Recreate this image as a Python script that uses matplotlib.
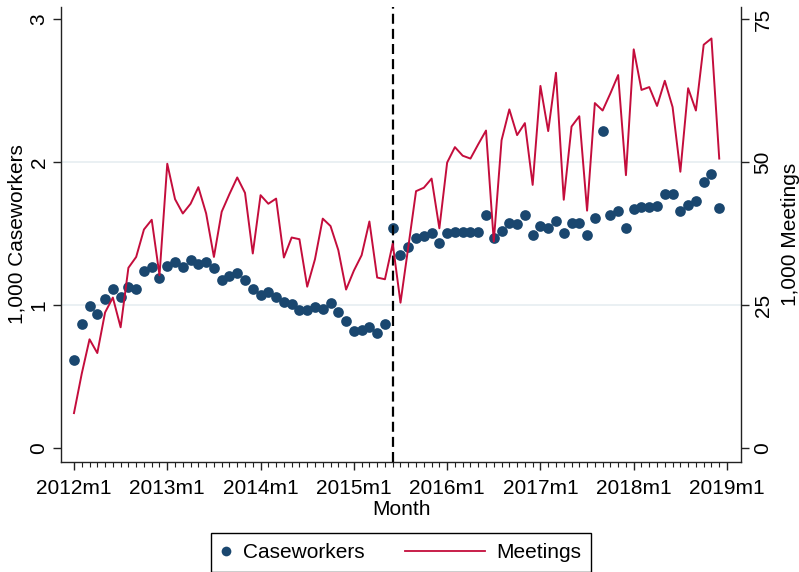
import numpy as np
import matplotlib
matplotlib.use("Agg")
import matplotlib.pyplot as plt
from matplotlib.lines import Line2D
from matplotlib.legend_handler import HandlerLine2D

plt.rcParams["font.family"] = ["Liberation Sans", "DejaVu Sans"]

# Monthly series, 2012m1 .. 2018m12 (thousands)
caseworkers = [
    0.615, 0.867, 0.993, 0.937, 1.042, 1.112, 1.054, 1.128, 1.112, 1.238, 1.268, 1.191,
    1.273, 1.303, 1.268, 1.315, 1.290, 1.303, 1.257, 1.175, 1.203, 1.222, 1.175, 1.110,
    1.070, 1.093, 1.054, 1.023, 1.005, 0.965, 0.965, 0.988, 0.970, 1.012, 0.949, 0.886,
    0.820, 0.825, 0.844, 0.807, 0.867, 1.536, 1.350, 1.403, 1.466, 1.483, 1.501, 1.436,
    1.501, 1.508, 1.513, 1.510, 1.513, 1.629, 1.471, 1.520, 1.576, 1.566, 1.629, 1.490,
    1.552, 1.536, 1.590, 1.501, 1.576, 1.571, 1.487, 1.606, 2.220, 1.630, 1.660, 1.535,
    1.671, 1.687, 1.687, 1.694, 1.776, 1.776, 1.655, 1.699, 1.727, 1.862, 1.914, 1.678,
]
meetings = [
    6.1, 13.0, 19.0, 16.6, 23.7, 26.3, 21.1, 31.5, 33.4, 38.2, 39.9, 30.2,
    49.7, 43.5, 41.0, 42.7, 45.6, 41.0, 33.4, 41.3, 44.4, 47.3, 44.6, 34.0,
    44.2, 42.7, 43.6, 33.3, 36.8, 36.5, 28.2, 33.0, 40.1, 38.8, 34.6, 27.7,
    31.0, 33.7, 39.6, 29.8, 29.5, 35.7, 25.4, 35.1, 44.9, 45.5, 47.1, 38.4,
    49.9, 52.6, 51.1, 50.6, 53.1, 55.5, 36.1, 53.8, 59.2, 54.7, 56.8, 46.0,
    63.3, 55.4, 65.6, 43.4, 56.2, 58.0, 41.5, 60.3, 59.0, 62.0, 65.2, 47.7,
    69.7, 62.6, 63.1, 59.8, 64.2, 59.6, 48.3, 62.9, 59.0, 70.5, 71.6, 50.6,
]
months = np.arange(len(caseworkers))          # 0 = 2012m1
year_tick_pos = list(range(0, 85, 12))
year_tick_labels = ["2012m1", "2013m1", "2014m1", "2015m1",
                    "2016m1", "2017m1", "2018m1", "2019m1"]
left_ticks = [0, 1, 2, 3]
right_ticks = [0, 25, 50, 75]
grid_levels = [1, 2]
break_month = 41                               # 2015m6

NAVY = "#1a476f"
RED = "#c40d3c"
FS = 15


class WideLineHandler(HandlerLine2D):
    """Legend line that extends further left than the handle box."""
    def get_xdata(self, legend, xdescent, ydescent, width, height, fontsize):
        x = np.array([-xdescent - 3.34 * fontsize, -xdescent + width])
        return x, x


fig = plt.figure(figsize=(7.99, 5.72), dpi=100)
ax = fig.add_axes([61 / 799, 110 / 572, 680 / 799, 455 / 572])
ax2 = ax.twinx()

ax.set_xlim(-1.67, 85.8)
ax.set_ylim(-0.098, 3.084)
ax2.set_ylim(-0.098 * 25, 3.084 * 25)

for g in grid_levels:
    ax.axhline(g, color="#e6eef1", lw=1.2, zorder=0)

ax.plot(months, caseworkers, linestyle="none", marker="o", ms=7.7,
        color=NAVY, mew=0, zorder=2)
ax.axvline(break_month, color="black", lw=1.6, dashes=(4.5, 2.3), zorder=3)
ax2.plot(months, meetings, color=RED, lw=1.4, zorder=3)

for s in ["top", "right"]:
    ax.spines[s].set_visible(False)
for s in ["top", "left", "bottom"]:
    ax2.spines[s].set_visible(False)
for sp in [ax.spines["left"], ax.spines["bottom"], ax2.spines["right"]]:
    sp.set_linewidth(1.0)
    sp.set_color("#222222")

ax.set_xticks(year_tick_pos)
ax.set_xticklabels(year_tick_labels, fontsize=FS)
ax.set_xticks(np.arange(0, 85), minor=True)
ax.tick_params(axis="x", which="major", length=6, width=1, pad=6, colors="#222222",
               labelcolor="black")
ax.tick_params(axis="x", which="minor", length=3.5, width=0.8, colors="#222222")

ax.set_yticks(left_ticks)
ax.set_yticklabels([str(t) for t in left_ticks], rotation=90, va="center", fontsize=FS)
ax.tick_params(axis="y", length=6, width=1, pad=3, colors="#222222", labelcolor="black")

ax2.set_yticks(right_ticks)
ax2.set_yticklabels([str(t) for t in right_ticks], rotation=90, va="center", fontsize=FS)
ax2.tick_params(axis="y", length=6, width=1, pad=3, colors="#222222", labelcolor="black")

ax.set_xlabel("Month", fontsize=FS, labelpad=1.6)
ax.set_ylabel("1,000 Caseworkers", fontsize=FS, labelpad=2)
ax2.set_ylabel("1,000 Meetings", fontsize=FS, labelpad=6)

h_cw = Line2D([], [], linestyle="none", marker="o", ms=7.0, color=NAVY, mew=0)
h_mt = Line2D([], [], color=RED, lw=1.3)
leg = fig.legend([h_cw, h_mt], ["Caseworkers", "Meetings"],
                 loc="upper center", bbox_to_anchor=(401 / 799, 1 - 533 / 572),
                 borderaxespad=0, ncol=2, fontsize=FS, frameon=True, fancybox=False,
                 edgecolor="black", framealpha=1, handlelength=0.5,
                 handletextpad=0.55, columnspacing=5.27, borderpad=0.47,
                 handler_map={h_mt: WideLineHandler()})
leg.get_frame().set_linewidth(1.0)

fig.savefig("out.png", dpi=100)
